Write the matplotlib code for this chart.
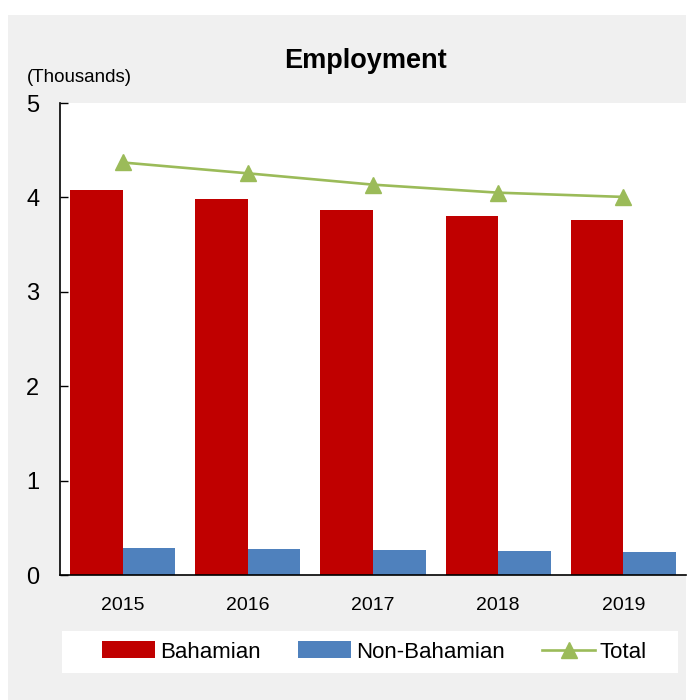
import matplotlib
matplotlib.use("Agg")
import matplotlib.pyplot as plt
from matplotlib.patches import Rectangle
import numpy as np

plt.rcParams['font.family'] = ['Liberation Sans', 'DejaVu Sans']

years = ["2015", "2016", "2017", "2018", "2019"]
bahamian = [4.08, 3.98, 3.87, 3.80, 3.76]
non_bahamian = [0.29, 0.275, 0.265, 0.25, 0.245]
total = [4.37, 4.255, 4.135, 4.05, 4.005]
y_ticks = [0, 1, 2, 3, 4, 5]

RED = "#C00000"
BLUE = "#4F81BD"
GREEN = "#9BBB59"
PANEL = "#F0F0F0"

W, H = 689, 700
fig = plt.figure(figsize=(W / 100, H / 100), dpi=100, facecolor="white")

# grey panel behind the chart, and the white strip holding the legend
fig.patches.append(Rectangle((8 / W, 0), 678 / W, 685 / H, transform=fig.transFigure,
                             facecolor=PANEL, edgecolor="none", zorder=-10))
fig.patches.append(Rectangle((62 / W, 27 / H), 616 / W, 42 / H, transform=fig.transFigure,
                             facecolor="white", edgecolor="none", zorder=-9))

ax = fig.add_axes([60 / W, 125 / H, 626 / W, 472 / H])
ax.set_facecolor("white")
ax.set_zorder(1)

x = np.arange(len(years))
bw = 0.42
h_b = ax.bar(x - bw / 2, bahamian, width=bw, color=RED, label="Bahamian", zorder=2)
h_n = ax.bar(x + bw / 2, non_bahamian, width=bw, color=BLUE, label="Non-Bahamian", zorder=2)
h_t, = ax.plot(x, total, color=GREEN, lw=1.9, marker="^", markersize=11,
               markerfacecolor=GREEN, markeredgecolor=GREEN, label="Total", zorder=3)

ax.set_xlim(-0.5, len(years) - 0.5)
ax.set_ylim(0, 5)
ax.set_yticks(y_ticks)
ax.set_yticklabels([str(v) for v in y_ticks], fontsize=17)
ax.set_xticks(x)
ax.set_xticklabels(years, fontsize=14)
ax.tick_params(axis="y", direction="in", length=6, width=1, pad=15)
ax.tick_params(axis="x", length=0, pad=16)
for s in ["top", "right"]:
    ax.spines[s].set_visible(False)
for s in ["left", "bottom"]:
    ax.spines[s].set_color("black")
    ax.spines[s].set_linewidth(1.2)

fig.text(365 / W, 1 - 61 / H, "Employment", ha="center", va="center",
         fontsize=19.5, fontweight="bold")
fig.text(27 / W, 1 - 78 / H, "(Thousands)", ha="left", va="center", fontsize=13.5)

leg = fig.legend(handles=[h_b, h_n, h_t], labels=["Bahamian", "Non-Bahamian", "Total"],
                 loc="center", bbox_to_anchor=(102 / W, 27 / H, 545 / W, 42 / H),
                 mode="expand", ncol=3, frameon=False,
                 fontsize=16, handlelength=2.4, handleheight=0.8,
                 handletextpad=0.2, borderaxespad=0, borderpad=0)
leg.set_zorder(2)

fig.savefig("out.png", dpi=100, facecolor="white")
